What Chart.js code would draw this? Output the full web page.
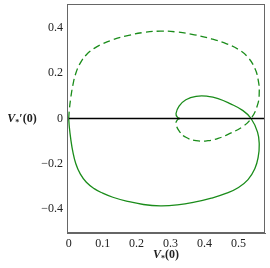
<!DOCTYPE html>
<html>
<head>
<meta charset="utf-8">
<script src="https://cdn.jsdelivr.net/npm/chart.js@4"></script>
<style>
  html, body { margin: 0; padding: 0; background: #fff; }
  .canvasContainer { width: 270px; height: 268px; }
</style>
</head>
<body>
<div class="canvasContainer"><canvas id="myChart"></canvas></div>
<script>
// Lower branch of the curve (solid); the upper branch is its mirror (dashed)
const curveX = [0, 0.002, 0.006, 0.012, 0.021, 0.034, 0.052, 0.075, 0.1, 0.13, 0.17, 0.22, 0.27, 0.32, 0.37, 0.42, 0.465, 0.5, 0.528, 0.548, 0.558, 0.561, 0.556, 0.537, 0.512, 0.475, 0.44, 0.41, 0.375, 0.345, 0.325, 0.316, 0.32, 0.328];
const curveY = [0, -0.04, -0.09, -0.145, -0.2, -0.245, -0.282, -0.31, -0.33, -0.348, -0.365, -0.38, -0.386, -0.382, -0.37, -0.352, -0.33, -0.305, -0.27, -0.222, -0.17, -0.115, -0.06, 0, 0.036, 0.066, 0.088, 0.098, 0.098, 0.083, 0.055, 0.022, 0.006, 0];

const xTicks = [0, 0.1, 0.2, 0.3, 0.4, 0.5];
const yTicks = [-0.4, -0.2, 0, 0.2, 0.4];

const solidPts = curveX.map((x, i) => ({ x: x, y: curveY[i] }));
const dashedPts = curveX.map((x, i) => ({ x: x, y: -curveY[i] }));

const green = '#1a8c1a';
const serif = '"Liberation Serif", "DejaVu Serif", serif';

// draw the axis labels V*(0) and V*'(0) by hand (subscript star)
function drawLabel(ctx, x, y, prime)
{
  ctx.save();
  ctx.fillStyle = '#222';
  ctx.textBaseline = 'middle';
  ctx.textAlign = 'left';
  const parts = [
    { t: 'V', f: 'italic bold 12px ' + serif, dy: 0 },
    { t: '*', f: 'bold 8px ' + serif, dy: 4 },
    { t: prime ? '\u2032(0)' : '(0)', f: 'bold 12px ' + serif, dy: 0 }
  ];
  let w = 0;
  parts.forEach(p => { ctx.font = p.f; w += ctx.measureText(p.t).width; });
  let cx = x - w / 2;
  parts.forEach(p => {
    ctx.font = p.f;
    ctx.fillText(p.t, cx, y + p.dy);
    cx += ctx.measureText(p.t).width;
  });
  ctx.restore();
}

const labelPlugin = {
  id: 'labels',
  afterDraw(chart) {
    const ctx = chart.ctx;
    const ys = chart.scales.y;
    drawLabel(ctx, 22, ys.getPixelForValue(0), true);
    drawLabel(ctx, (chart.chartArea.left + chart.chartArea.right) / 2, 255, false);
  }
};

const data = {
  datasets: [
    {
      label: 'axis',
      data: [{ x: 0, y: 0 }, { x: 0.578, y: 0 }],
      borderColor: '#000',
      borderWidth: 1.6,
      pointRadius: 0,
      showLine: true
    },
    {
      label: 'solid',
      data: solidPts,
      borderColor: green,
      borderWidth: 1.3,
      pointRadius: 0,
      showLine: true,
      tension: 0.45
    },
    {
      label: 'dashed',
      data: dashedPts,
      borderColor: green,
      borderWidth: 1.3,
      borderDash: [7, 4],
      pointRadius: 0,
      showLine: true,
      tension: 0.45
    }
  ]
};

const config = {
  type: 'scatter',
  data,
  options: {
    responsive: true,
    maintainAspectRatio: false,
    animation: false,
    layout: { padding: { left: 0, right: 5, top: 4, bottom: 0 } },
    plugins: {
      legend: { display: false },
      tooltip: { enabled: false }
    },
    scales: {
      x: {
        type: 'linear',
        min: -0.005,
        max: 0.578,
        afterFit: (s) => { s.height = 35; s.paddingLeft = 0; s.paddingRight = 0; },
        afterBuildTicks: (s) => { s.ticks = xTicks.map(v => ({ value: v })); },
        grid: { display: false, drawTicks: false, tickLength: 0 },
        border: { display: true, color: '#666', width: 1 },
        ticks: {
          color: '#222',
          padding: 4,
          maxRotation: 0,
          font: { family: serif, size: 12 },
          callback: (v) => v === 0 ? '0' : String(Math.round(v * 10) / 10)
        }
      },
      y: {
        type: 'linear',
        min: -0.506,
        max: 0.506,
        afterFit: (s) => { s.width = 67; s.paddingTop = 0; s.paddingBottom = 0; },
        afterBuildTicks: (s) => { s.ticks = yTicks.map(v => ({ value: v })); },
        grid: { display: false, drawTicks: false, tickLength: 0 },
        border: { display: true, color: '#666', width: 1 },
        ticks: {
          color: '#222',
          padding: 4,
          font: { family: serif, size: 12 },
          callback: (v) => {
            const r = Math.round(v * 10) / 10;
            if (r === 0) return '0';
            return r < 0 ? '\u2212' + String(-r) : String(r);
          }
        }
      }
    }
  },
  plugins: [labelPlugin, {
    id: 'frame',
    afterDraw(chart) {
      const a = chart.chartArea;
      const ctx = chart.ctx;
      ctx.save();
      ctx.strokeStyle = '#666';
      ctx.lineWidth = 1;
      ctx.strokeRect(a.left + 0.5, a.top + 0.5, a.right - a.left - 1, a.bottom - a.top - 1);
      ctx.restore();
    }
  }]
};

const chart = new Chart(document.getElementById('myChart'), config);
</script>
</body>
</html>
